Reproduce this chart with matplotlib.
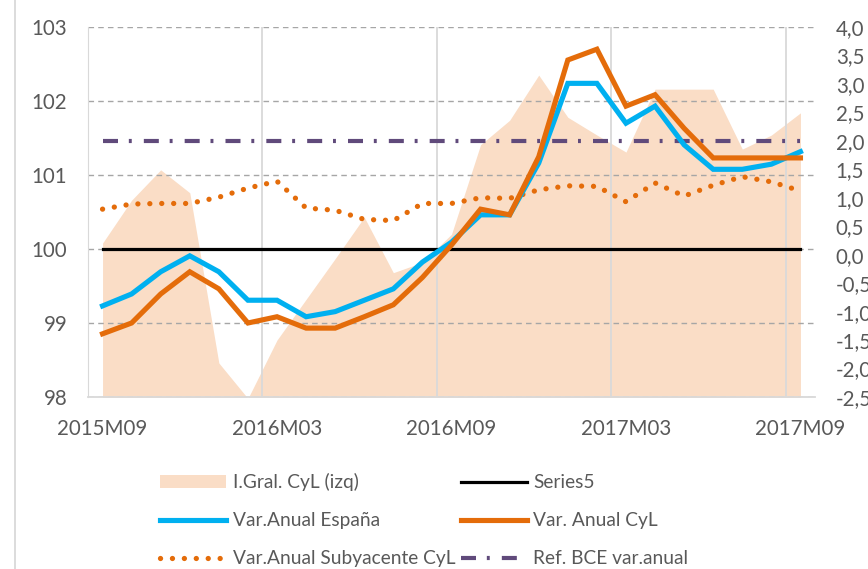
import numpy as np
import matplotlib
matplotlib.use("Agg")
import matplotlib.pyplot as plt
from matplotlib.lines import Line2D
from matplotlib.patches import Patch

plt.rcParams['font.family'] = ['Lato', 'DejaVu Sans']

# Data (monthly, 2015M09 .. 2017M09)
months = ["2015M09", "2015M10", "2015M11", "2015M12", "2016M01", "2016M02", "2016M03",
          "2016M04", "2016M05", "2016M06", "2016M07", "2016M08", "2016M09", "2016M10",
          "2016M11", "2016M12", "2017M01", "2017M02", "2017M03", "2017M04", "2017M05",
          "2017M06", "2017M07", "2017M08", "2017M09"]
igral_cyl = [100.08, 100.66, 101.07, 100.76, 98.46, 97.98, 98.77, 99.32, 99.87, 100.43,
             99.68, 99.82, 100.2, 101.41, 101.74, 102.35, 101.78, 101.54, 101.31, 102.16,
             102.16, 102.16, 101.35, 101.54, 101.84]
series5 = [100.0] * len(months)
var_espana = [-0.90, -0.69, -0.30, -0.02, -0.30, -0.80, -0.80, -1.09, -1.00, -0.80,
              -0.60, -0.13, 0.22, 0.70, 0.70, 1.61, 3.01, 3.01, 2.31, 2.61,
              1.93, 1.50, 1.50, 1.59, 1.81]
var_cyl = [-1.39, -1.20, -0.69, -0.30, -0.60, -1.20, -1.09, -1.29, -1.29, -1.09,
           -0.88, -0.40, 0.17, 0.80, 0.70, 1.72, 3.42, 3.61, 2.61, 2.81,
           2.22, 1.70, 1.70, 1.70, 1.70]
subyacente_cyl = [0.80, 0.89, 0.90, 0.90, 1.01, 1.17, 1.29, 0.82, 0.78, 0.62,
                  0.60, 0.90, 0.90, 1.00, 0.99, 1.14, 1.21, 1.20, 0.93, 1.26,
                  1.03, 1.22, 1.37, 1.28, 1.12]
ref_bce = [2.0] * len(months)

# Colours
cFill = '#FADDC6'
cBlue = '#00B0F0'
cOrange = '#E46C0A'
cPurple = '#604A7B'
cGrid = '#A6A6A6'
cLight = '#D9D9D9'
cText = '#595959'

x = np.arange(len(months))

fig = plt.figure(figsize=(8.68, 5.69), dpi=100, facecolor='w')
ax = fig.add_axes([88/868, 1-397/569, (815-88)/868, (397-27)/569])
ax2 = ax.twinx()

# Left axis: fill + Series5
ax.fill_between(x, 97, igral_cyl, color=cFill, lw=0, zorder=1)
for v in range(98, 104):
    ax.axhline(v, color=cGrid, lw=1, ls=(0, (4, 3)), zorder=1.5)
for v in [5.5, 11.5, 17.5, 23.5]:
    ax.axvline(v, color=cLight, lw=1.3, zorder=1.5)
ax.plot(x, series5, color='black', lw=2.3, zorder=2)

ax.set_xlim(-0.5, len(months) - 0.5)
ax.set_ylim(98, 103)
ax.set_yticks(range(98, 104))
ax.set_xticks(x[::6])
ax.set_xticklabels(months[::6])

# Right axis lines
ax2.plot(x, subyacente_cyl, color=cOrange, lw=3.8, ls=(0, (0.01, 2.25)),
         dash_capstyle='round')
ax2.plot(x, ref_bce, color=cPurple, lw=3.0, ls=(0, (3.6, 2.6, 0.7, 2.9)))
ax2.plot(x, var_espana, color=cBlue, lw=3.7, solid_joinstyle='miter')
ax2.plot(x, var_cyl, color=cOrange, lw=3.7, solid_joinstyle='miter')
ax2.set_ylim(-2.5, 4.0)
ax2.set_yticks(np.arange(-2.5, 4.01, 0.5))
ax2.set_yticklabels([("%.1f" % v).replace('.', ',') for v in np.arange(-2.5, 4.01, 0.5)])

for a in (ax, ax2):
    for s in a.spines.values():
        s.set_visible(False)
    a.tick_params(length=0, colors=cText, labelsize=14.8)
ax.spines['left'].set_visible(True)
ax.spines['left'].set_color(cLight)
ax.spines['bottom'].set_visible(True)
ax.spines['bottom'].set_color(cLight)
ax.spines['bottom'].set_linewidth(1.3)
ax.tick_params(axis='y', pad=15)
ax.tick_params(axis='x', pad=16)
ax2.tick_params(axis='y', pad=15)

# Chart border on the left
fig.add_artist(Line2D([15/868, 15/868], [0, 1], color=cLight, lw=1.3))

# Legend
handles = [Patch(color=cFill, lw=0),
           Line2D([], [], color=cBlue, lw=3.7),
           Line2D([], [], color=cOrange, lw=3.8, ls=(0, (0.01, 2.25)), dash_capstyle='round'),
           Line2D([], [], color='black', lw=2.3),
           Line2D([], [], color=cOrange, lw=3.7),
           Line2D([], [], color=cPurple, lw=3.0, ls=(0, (3.6, 2.6, 0.7, 2.9)))]
labels = ["I.Gral. CyL (izq)", "Var.Anual España", "Var.Anual Subyacente CyL",
          "Series5", "Var. Anual CyL", "Ref. BCE var.anual"]
leg = fig.legend(handles, labels, ncol=2, loc='upper left',
                 bbox_to_anchor=(143/868, 1-456/569), frameon=False,
                 fontsize=13.8, handlelength=3.44, handletextpad=0.36,
                 labelspacing=1.1, columnspacing=0.26, labelcolor=cText)

fig.savefig("out.png", dpi=100, facecolor='w')
